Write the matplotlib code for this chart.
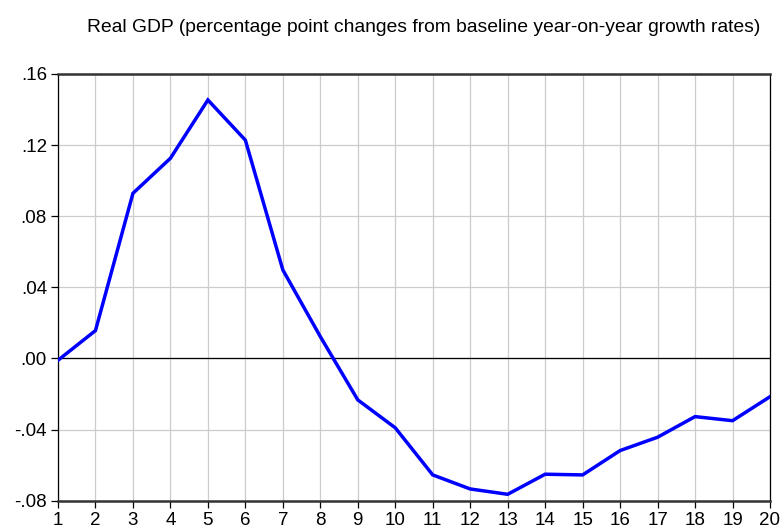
import numpy as np
import matplotlib
matplotlib.use("Agg")
from matplotlib import pyplot as plt
from matplotlib import ticker

matplotlib.rcParams['font.family'] = ['Liberation Sans', 'DejaVu Sans']

# Response of real GDP over 20 periods
periods = list(range(1, 21))
gdp = [-0.001, 0.0157, 0.0929, 0.1126, 0.1454, 0.1228, 0.0498, 0.0123,
       -0.0233, -0.039, -0.0655, -0.0734, -0.0764, -0.0651, -0.0655,
       -0.0518, -0.0443, -0.0327, -0.0350, -0.0215]
yticks = [-0.08, -0.04, 0.00, 0.04, 0.08, 0.12, 0.16]

def short_fmt(v, pos):
    s = "%.2f" % v
    if s.startswith("-0"):
        s = "-" + s[2:]
    elif s.startswith("0"):
        s = s[1:]
    return s

fig = plt.figure(figsize=(7.81, 5.29), dpi=100)
ax = fig.add_axes([58/781, 1 - 500.7/529, 712/781, (500.7 - 74)/529])

ax.axhline(0, color='black', lw=0.9, zorder=2)
ax.plot(periods, gdp, color='#0000ff', lw=2.5, zorder=3, solid_joinstyle='miter')

ax.set_xlim(1, 20)
ax.set_ylim(-0.08, 0.16)
ax.set_xticks(periods)
ax.set_yticks(yticks)
ax.yaxis.set_major_formatter(ticker.FuncFormatter(short_fmt))
ax.grid(True, color='#cccccc', lw=0.9, zorder=1)

for side in ['top', 'bottom']:
    ax.spines[side].set_linewidth(1.8)
    ax.spines[side].set_color('#333333')
for side in ['left', 'right']:
    ax.spines[side].set_linewidth(0.9)
    ax.spines[side].set_color('black')

ax.tick_params(axis='both', direction='out', length=5, width=0.9,
               labelsize=13.5, colors='black')
ax.tick_params(axis='x', pad=3)
ax.tick_params(axis='y', pad=3)

fig.text(424/781, 1 - 28/529,
         "Real GDP (percentage point changes from baseline year-on-year growth rates)",
         ha='center', va='center', fontsize=13.9)

fig.savefig("out.png", dpi=100)
